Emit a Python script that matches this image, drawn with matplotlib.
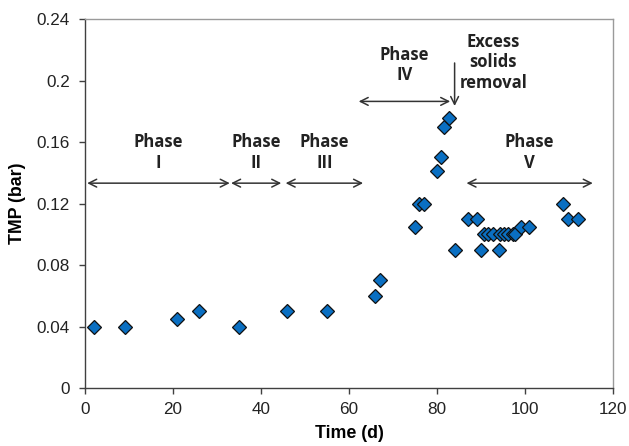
import matplotlib.pyplot as plt
from matplotlib.ticker import FuncFormatter

# ==============================
# DADOS
# ==============================
tempo = [2, 9, 21, 26, 35, 46, 55, 66, 67, 75, 76, 77, 80, 81, 81.7, 82.8,
         84, 87, 89, 90, 90.7, 91.7, 92.7, 94, 94.3, 95.3, 96.2, 97.2, 97.7,
         99, 101, 108.7, 109.8, 112]
tmp = [0.04, 0.04, 0.045, 0.05, 0.04, 0.05, 0.05, 0.06, 0.07, 0.105, 0.12, 0.12,
       0.141, 0.15, 0.17, 0.176, 0.09, 0.11, 0.11, 0.09, 0.1, 0.1, 0.1, 0.09,
       0.1, 0.1, 0.1, 0.1, 0.1, 0.105, 0.105, 0.12, 0.11, 0.11]

fases = ["Phase\nI", "Phase\nII", "Phase\nIII", "Phase\nIV", "Phase\nV"]
fase_inicio = [0.5, 33.2, 45.6, 62.2, 86.7]
fase_fim = [32.9, 44.6, 63.2, 83.0, 115.4]
fase_y = [0.1333, 0.1333, 0.1333, 0.1865, 0.1333]

remocao_x = 84
remocao_texto = "Excess\nsolids\nremoval"

x_ticks = [0, 20, 40, 60, 80, 100, 120]
y_ticks = [0, 0.04, 0.08, 0.12, 0.16, 0.2, 0.24]

# ==============================
# GRÁFICO
# ==============================
fig = plt.figure(figsize=(6.29, 4.46), dpi=100)
ax = fig.add_axes([0.1351, 0.130, 0.8395, 0.827])

ax.plot(tempo, tmp, linestyle="none", marker="D", markersize=7.6,
        markerfacecolor="#0a6fc2", markeredgecolor="#111111",
        markeredgewidth=0.9, zorder=3)

ax.set_xlim(0, 120)
ax.set_ylim(0, 0.24)
ax.set_xticks(x_ticks)
ax.set_yticks(y_ticks)
ax.yaxis.set_major_formatter(FuncFormatter(lambda v, p: "%g" % round(v, 2)))

for lado in ["left", "bottom"]:
    ax.spines[lado].set_color("#404040")
    ax.spines[lado].set_linewidth(1.0)
for lado in ["top", "right"]:
    ax.spines[lado].set_color("#9a9a9a")
    ax.spines[lado].set_linewidth(1.0)

ax.tick_params(direction="out", length=4, width=1, color="#404040",
               labelsize=12.3, labelcolor="#222222")
ax.tick_params(axis="x", pad=6)
ax.tick_params(axis="y", pad=7)
for lbl in ax.get_xticklabels() + ax.get_yticklabels():
    lbl.set_family("Liberation Sans")

ax.set_xlabel("Time (d)", fontsize=12.8, fontweight="bold",
              family="Liberation Sans", va="center")
ax.set_ylabel("TMP (bar)", fontsize=12.8, fontweight="bold",
              family="Liberation Sans", va="center")
ax.xaxis.set_label_coords(0.5, -0.124)
ax.yaxis.set_label_coords(-0.127, 0.5)

fonte = dict(fontsize=12, fontweight="bold", family="Open Sans",
             color="#222222", ha="center", va="bottom", linespacing=1.2)

# setas das fases
for nome, x0, x1, y in zip(fases, fase_inicio, fase_fim, fase_y):
    ax.annotate("", xy=(x0, y), xytext=(x1, y),
                arrowprops=dict(arrowstyle="<->", color="#333333", lw=1.1,
                                mutation_scale=14, shrinkA=0, shrinkB=0))
    desloc = 0.011 if y > 0.15 else 0.0075
    ax.text((x0 + x1) / 2, y + desloc, nome, **fonte)

# remoção de sólidos
ax.annotate("", xy=(remocao_x, 0.1835), xytext=(remocao_x, 0.2115),
            arrowprops=dict(arrowstyle="->", color="#333333", lw=1.1,
                            mutation_scale=14, shrinkA=0, shrinkB=0))
ax.text(92.8, 0.1925, remocao_texto, **fonte)

fig.savefig("out.png", dpi=100)
